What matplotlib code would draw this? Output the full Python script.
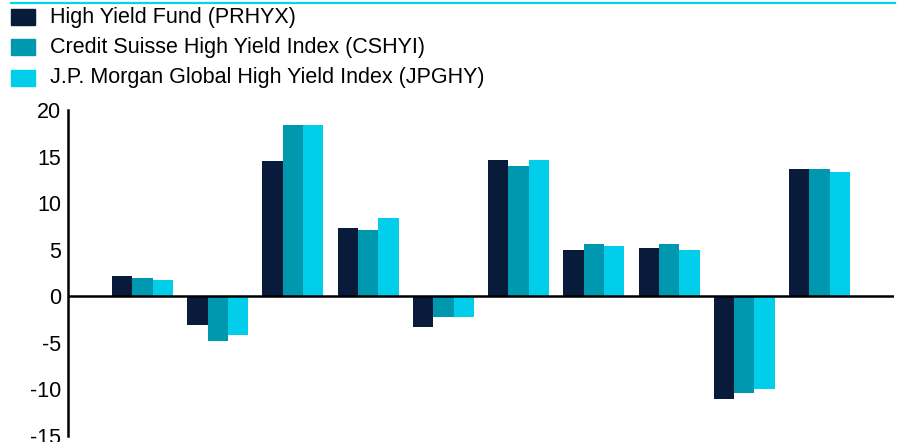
import numpy as np
import matplotlib.pyplot as plt
from matplotlib.patches import Rectangle
from matplotlib.lines import Line2D

plt.rcParams['font.family'] = ['Liberation Sans', 'DejaVu Sans']

series = [
    "High Yield Fund (PRHYX)",
    "Credit Suisse High Yield Index (CSHYI)",
    "J.P. Morgan Global High Yield Index (JPGHY)",
]
colors = ["#081b3a", "#0098ae", "#00ceea"]

# annual returns, one value per period
prhyx = [2.15, -3.1, 14.5, 7.3, -3.3, 14.6, 4.95, 5.15, -11.1, 13.65]
cshyi = [1.95, -4.8, 18.4, 7.1, -2.3, 14.0, 5.6, 5.6, -10.4, 13.65]
jpghy = [1.7, -4.2, 18.4, 8.4, -2.3, 14.6, 5.4, 4.95, -10.0, 13.3]
yticks = [-15, -10, -5, 0, 5, 10, 15, 20]

fig = plt.figure(figsize=(9.02, 4.42), dpi=100)
ax = fig.add_axes([0.0754, 0.0147, 0.9157, 0.7363])

x = np.arange(len(prhyx))
w = 0.27
for i, (vals, c) in enumerate(zip([prhyx, cshyi, jpghy], colors)):
    ax.bar(x + (i - 1) * w, vals, width=w, color=c, linewidth=0, zorder=2)

ax.axhline(0, color="black", lw=1.8, zorder=3)
ax.set_xlim(-0.99, 9.99)
ax.set_ylim(-15, 20)
ax.set_yticks(yticks)
ax.set_yticklabels([str(t) for t in yticks])
ax.tick_params(axis="y", length=0, pad=5, labelsize=15.5, colors="black")
ax.set_xticks([])
for s in ["top", "right", "bottom"]:
    ax.spines[s].set_visible(False)
ax.spines["left"].set_linewidth(1.8)

# rule across the top of the figure
fig.add_artist(Line2D([11 / 902, 895 / 902], [1 - 2.5 / 442] * 2,
                      color="#00d4ee", lw=1.6, transform=fig.transFigure))

# legend rows
row_y = [17, 47, 78]
for lab, c, yc in zip(series, colors, row_y):
    fig.add_artist(Rectangle((11 / 902, 1 - (yc + 8) / 442), 24 / 902, 16 / 442,
                             color=c, transform=fig.transFigure))
    fig.text(50 / 902, 1 - yc / 442, lab, fontsize=15.5, va="center", ha="left")

fig.savefig("out.png", dpi=100)
